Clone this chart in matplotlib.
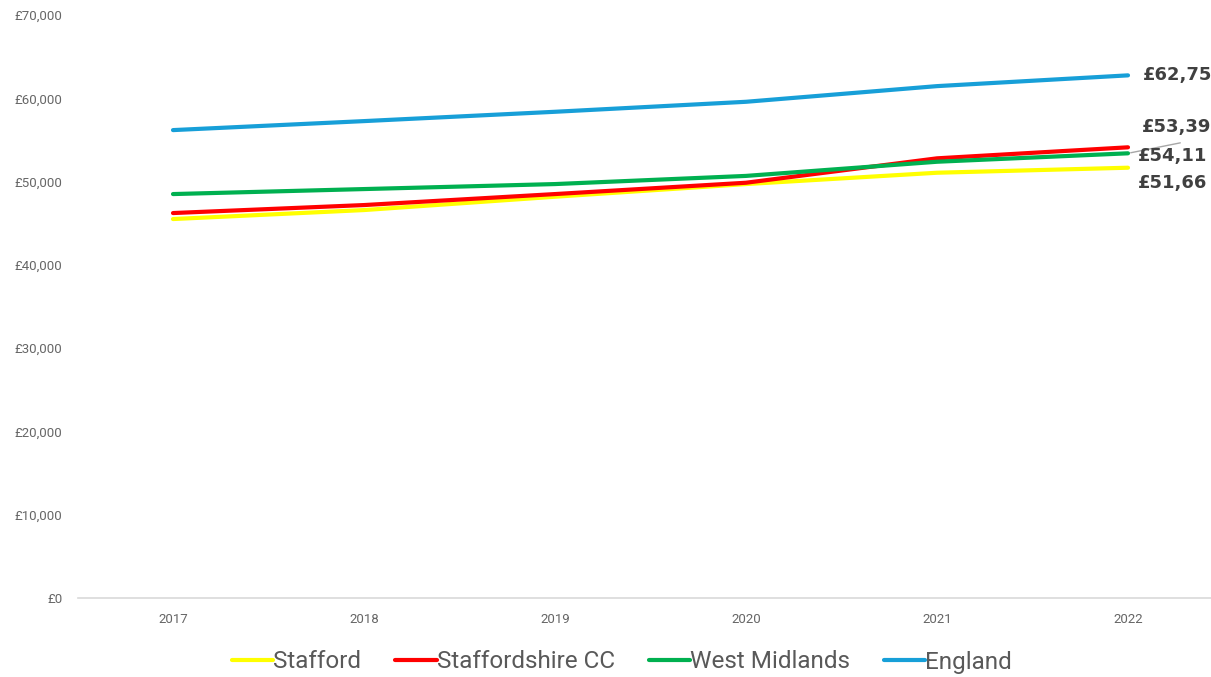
import matplotlib
matplotlib.use("Agg")
import matplotlib.pyplot as plt
from matplotlib.ticker import FuncFormatter

years = ["2017", "2018", "2019", "2020", "2021", "2022"]
stafford = [45500, 46580, 48180, 49700, 51060, 51664]
staffs_cc = [46220, 47180, 48500, 49860, 52790, 54114]
west_mids = [48500, 49100, 49700, 50680, 52380, 53394]
england = [56180, 57260, 58380, 59580, 61460, 62753]
# end labels as far as the original shows them (cut at the right edge)
end_labels = ["£51,66", "£54,11", "£53,39", "£62,75"]

series = [
    ("Stafford", stafford, "#FFFF00"),
    ("Staffordshire CC", staffs_cc, "#FF0000"),
    ("West Midlands", west_mids, "#00B050"),
    ("England", england, "#179FD8"),
]

plt.rcParams['font.family'] = ['Roboto', 'DejaVu Sans']

W, H = 1211, 677
fig = plt.figure(figsize=(W / 100, H / 100), dpi=100)
# plot area runs past the right edge of the picture, like the original
ax = fig.add_axes([77.5 / W, 1 - 598 / H, 1146 / W, 583 / H])

x = list(range(len(years)))
for name, vals, col in series:
    ax.plot(x, vals, color=col, lw=3, label=name, solid_capstyle='round')

ax.set_xlim(-0.5, len(years) - 0.5)
ax.set_ylim(0, 70000)
ax.set_yticks(range(0, 70001, 10000))
ax.yaxis.set_major_formatter(FuncFormatter(lambda v, p: "£{:,.0f}".format(v)))
ax.set_xticks(x)
ax.set_xticklabels(years)

for s in ["top", "right", "left"]:
    ax.spines[s].set_visible(False)
ax.spines["bottom"].set_color("#D9D9D9")
ax.spines["bottom"].set_linewidth(1.2)
ax.tick_params(axis="both", length=0, colors="#666666", labelsize=9.5)
ax.tick_params(axis="y", pad=11)
ax.tick_params(axis="x", pad=11)

# end-of-line value labels (West Midlands label moved up with a leader line)
lab_style = dict(fontsize=13, fontweight="bold", color="#404040",
                 family=["DejaVu Sans"], va="center", ha="left")
ax.annotate(end_labels[3], xy=(5, england[-1]), xytext=(15, 0),
            textcoords="offset pixels", **lab_style)
ax.annotate(end_labels[2], xy=(5, west_mids[-1]), xytext=(14, 26),
            textcoords="offset pixels", **lab_style)
ax.annotate("", xy=(5, west_mids[-1]), xytext=(55, 11), textcoords="offset pixels",
            arrowprops=dict(arrowstyle="-", color="#A6A6A6", lw=1))
ax.annotate(end_labels[1], xy=(5, staffs_cc[-1]), xytext=(10, -9),
            textcoords="offset pixels", **lab_style)
ax.annotate(end_labels[0], xy=(5, stafford[-1]), xytext=(10, -15),
            textcoords="offset pixels", **lab_style)

fig.legend(loc="center", bbox_to_anchor=(622 / W, 1 - 662 / H), ncol=4,
           frameon=False, fontsize=17.5, handlelength=1.7, handletextpad=0.0,
           columnspacing=1.4, labelcolor="#595959")

fig.savefig("out.png", dpi=100)
